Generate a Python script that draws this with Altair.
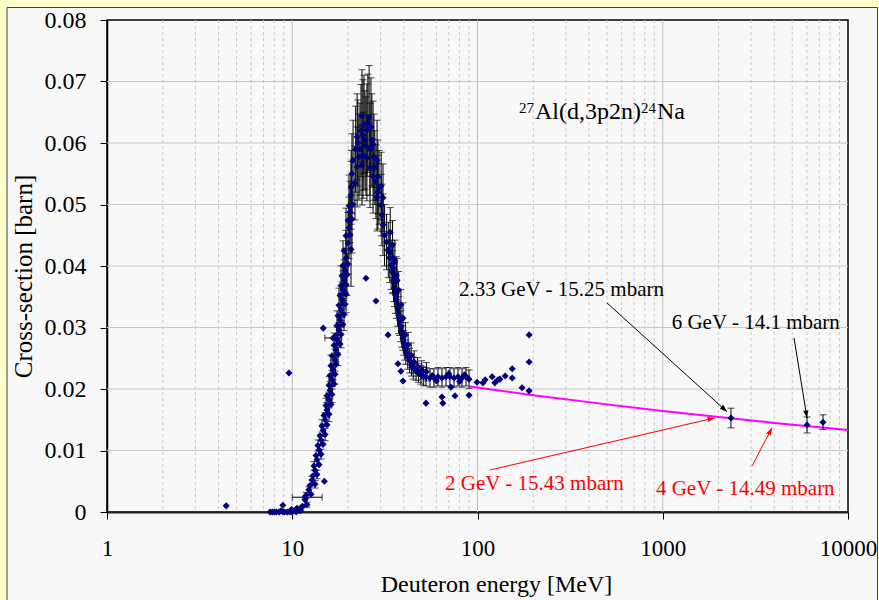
import altair as alt
import pandas as pd

FONT = "Liberation Serif"
NAVY = "#000080"

# ---------------- data ----------------
low_E = [7.6, 7.8, 8.0, 8.2, 8.5, 8.7, 8.9, 9.1, 9.4, 9.7, 10.0, 10.2, 10.5, 10.8, 11.1, 8.9, 9.9, 10.6, 11.4]
low_xs = [0, 0, 0, 0, 0, 0.0002, 0, 0, 0, 0, 0, 0.0002, 0, 0.0003, 0.0002, 0.0011, 0.0004, 0.0006, 0.0009]

rise_E = [
    11.29, 12.00, 11.72, 11.86, 12.63, 12.30, 12.47, 13.27, 12.78, 12.94, 13.60, 13.27,
    13.11, 13.95, 13.60, 13.44, 14.30, 13.95, 13.77, 14.66, 14.30, 14.12, 15.03, 14.66,
    14.47, 15.40, 15.03, 14.84, 15.79, 15.40, 15.21, 16.19, 15.79, 15.40, 16.39, 15.99,
    15.79, 16.81, 16.39, 15.99, 17.02, 16.60, 16.19, 17.23, 17.02, 16.39, 17.66, 17.23,
    16.81, 18.11, 17.45, 17.23, 18.33, 17.88, 17.45, 18.79, 18.11, 17.66, 19.03, 18.33,
    17.88, 19.27, 18.56, 18.11, 19.51, 18.79, 18.33, 19.51, 19.03, 18.56, 19.75, 19.27,
    18.79, 20.00, 19.51, 19.03, 20.76, 20.00, 19.51, 20.50, 20.25, 20.00, 21.02, 20.50,
    20.25, 21.28, 20.76]
rise_xs = [
    0.0009, 0.0012, 0.0020, 0.0027, 0.0029, 0.0036, 0.0043, 0.0045, 0.0052, 0.0059, 0.0061, 0.0068,
    0.0075, 0.0077, 0.0085, 0.0092, 0.0094, 0.0101, 0.0108, 0.0110, 0.0117, 0.0124, 0.0126, 0.0133,
    0.0140, 0.0142, 0.0150, 0.0157, 0.0159, 0.0166, 0.0173, 0.0175, 0.0182, 0.0189, 0.0191, 0.0198,
    0.0206, 0.0208, 0.0215, 0.0222, 0.0224, 0.0231, 0.0238, 0.0240, 0.0247, 0.0254, 0.0256, 0.0263,
    0.0271, 0.0273, 0.0280, 0.0287, 0.0289, 0.0296, 0.0303, 0.0305, 0.0312, 0.0319, 0.0321, 0.0328,
    0.0336, 0.0338, 0.0345, 0.0352, 0.0354, 0.0361, 0.0368, 0.0370, 0.0377, 0.0384, 0.0386, 0.0393,
    0.0401, 0.0403, 0.0413, 0.0425, 0.0427, 0.0437, 0.0449, 0.0451, 0.0462, 0.0474, 0.0476, 0.0488,
    0.0498, 0.0500, 0.0515]
rise_err = [
    0, 0.0004, 0, 0.0005, 0, 0.0005, 0, 0.0006, 0.0006, 0, 0.0007, 0.0007,
    0.0007, 0, 0.0008, 0, 0.0008, 0.0008, 0.0009, 0, 0.0009, 0, 0.0010, 0.0010,
    0.0010, 0, 0.0011, 0, 0.0012, 0.0012, 0.0012, 0, 0.0013, 0, 0.0013, 0.0014,
    0.0014, 0, 0.0015, 0, 0.0016, 0.0016, 0.0017, 0, 0.0018, 0, 0.0018, 0.0019,
    0.0020, 0, 0.0021, 0, 0.0022, 0.0023, 0.0024, 0, 0.0025, 0, 0.0026, 0.0027,
    0.0028, 0, 0.0029, 0, 0.0030, 0.0031, 0.0032, 0, 0.0033, 0, 0.0034, 0.0035,
    0.0040, 0, 0.0045, 0, 0.0060, 0.0050, 0.0045, 0, 0.0050, 0, 0.0055, 0.0050,
    0.0050, 0, 0.0055]

peak_E = [23.8, 26.0, 26.6, 25.3, 22.4, 22.6, 24.1, 24.7, 26.9, 21.3,
          22.9, 24.1, 25.3, 27.6, 28.7, 22.4, 23.8, 20.8, 21.8, 27.3,
          29.4, 28.7, 30.9, 23.2, 25.0, 26.3, 27.3, 24.4, 25.6, 23.5,
          22.0, 21.0, 26.3, 27.9, 29.0, 30.2]
peak_xs = [0.0644, 0.0641, 0.0626, 0.0621, 0.0610, 0.0600, 0.0613, 0.0605, 0.0605, 0.0572,
           0.0577, 0.0580, 0.0576, 0.0577, 0.0572, 0.0561, 0.0564, 0.0528, 0.0535, 0.0546,
           0.0528, 0.0512, 0.0511, 0.0590, 0.0595, 0.0590, 0.0598, 0.0630, 0.0632, 0.0620,
           0.0590, 0.0550, 0.0560, 0.0560, 0.0545, 0.0530]
peak_err = [0.0075, 0.0085, 0.0080, 0.0075, 0.0070, 0.0070, 0.0090, 0.0080, 0.0075, 0.0065,
            0.0070, 0.0070, 0.0070, 0.0070, 0.0065, 0.0065, 0.0065, 0.0060, 0.0060, 0.0060,
            0.0060, 0.0055, 0.0055, 0.0075, 0.0080, 0.0075, 0.0070, 0.0080, 0.0080, 0.0075,
            0.0070, 0.0065, 0.0065, 0.0060, 0.0060, 0.0055]

fall_E = [30.9, 31.5, 32.3, 33.0, 33.6, 34.2, 34.8, 35.2, 35.6, 36.0,
          36.5, 37.0, 37.5, 38.0, 38.5, 39.0, 39.5, 40.0, 40.5, 41.0,
          42.0, 43.0, 44.0, 45.0, 46.6, 48.0, 49.5, 51.0, 52.7, 55.4,
          58.2, 61.2, 64.3, 67.6, 71.0, 74.7, 78.5, 82.5, 86.7, 90.0,
          33.8, 34.8, 35.8, 36.5, 37.5, 38.6, 39.6, 40.8, 42.2, 43.8,
          45.5, 47.5, 50.0, 53.0, 28.3, 29.0, 30.2, 30.5, 32.9, 33.7,
          35.0, 36.8, 35.0, 57.0, 60.0, 70.0, 80.0, 85.0]
fall_xs = [0.0467, 0.0450, 0.0439, 0.0426, 0.0413, 0.0402, 0.0390, 0.0377, 0.0364, 0.0353,
           0.0345, 0.0332, 0.0320, 0.0312, 0.0302, 0.0293, 0.0283, 0.0275, 0.0267, 0.0260,
           0.0252, 0.0246, 0.0239, 0.0234, 0.0229, 0.0226, 0.0223, 0.0221, 0.0220, 0.0218,
           0.0218, 0.0220, 0.0218, 0.0220, 0.0220, 0.0218, 0.0220, 0.0218, 0.0220, 0.0216,
           0.0455, 0.0434, 0.0407, 0.0385, 0.0361, 0.0337, 0.0315, 0.0288, 0.0272, 0.0255,
           0.0244, 0.0236, 0.0231, 0.0228, 0.0537, 0.0520, 0.0499, 0.0483, 0.0426, 0.0421,
           0.0397, 0.0377, 0.0413, 0.0222, 0.0213, 0.0225, 0.0212, 0.0223]
fall_err = [0.005, 0.005, 0.0045, 0.0045, 0.004, 0.004, 0.0035, 0.0035, 0.003, 0.003,
            0.003, 0.003, 0.003, 0.0025, 0.0025, 0.0025, 0.002, 0.002, 0.002, 0.002,
            0.002, 0.002, 0.0018, 0.0018, 0.0015, 0.0015, 0.0015, 0.0015, 0.0015, 0.0015,
            0.0015, 0.0015, 0.0015, 0.0015, 0.0015, 0.0015, 0.0015, 0.0015, 0.0015, 0.0015,
            0.004, 0.004, 0.0035, 0.003, 0.003, 0.0025, 0.0025, 0.002, 0.002, 0.002,
            0.0018, 0.0015, 0.0015, 0.0015, 0.006, 0.006, 0.005, 0.005, 0, 0,
            0.004, 0.0035, 0, 0, 0, 0, 0, 0]

out_E = [4.4, 9.6, 14.7, 25.0, 28.3, 32.9, 37.2, 38.6, 39.6, 52.7, 64.3, 65.0, 75.6, 71.9, 90.0, 14.9]
out_xs = [0.0010, 0.0226, 0.0299, 0.0380, 0.0343, 0.0288, 0.0241, 0.0229, 0.0213, 0.0177,
          0.0187, 0.0177, 0.0189, 0.0203, 0.0190, 0.0050]

high_E = [99.4, 107, 110, 120, 124, 129, 132, 141, 154, 154, 174, 190, 190, 190]
high_xs = [0.0211, 0.0210, 0.0215, 0.0220, 0.0210, 0.0215, 0.0216, 0.0221, 0.0233, 0.0218,
           0.0202, 0.0197, 0.0244, 0.0288]

gev_E = [2335, 6010, 7330]
gev_xs = [0.01528, 0.01415, 0.0146]
gev_err = [0.0016, 0.0013, 0.0012]

hbar_E = [11.7, 16.6]
hbar_xs = [0.0024, 0.0283]
hbar_lo = [10.0, 15.0]
hbar_hi = [14.5, 18.5]

fit_E = [91, 200, 500, 1000, 2000, 4000, 10000]
fit_xs = [0.0204, 0.0190, 0.0175, 0.01643, 0.01543, 0.01449, 0.01333]

x_ticks = [1, 10, 100, 1000, 10000]
y_ticks = [0, 0.01, 0.02, 0.03, 0.04, 0.05, 0.06, 0.07, 0.08]
x_major_grid = [10, 100, 1000]
x_minor_grid = [2, 3, 4, 5, 6, 7, 8, 9, 20, 30, 40, 50, 60, 70, 80, 90,
                200, 300, 400, 500, 600, 700, 800, 900, 2000, 3000, 4000, 5000, 6000, 7000, 8000, 9000]
y_grid = [0.01, 0.02, 0.03, 0.04, 0.05, 0.06, 0.07]

label_text = ["2.33 GeV - 15.25 mbarn", "6 GeV - 14.1 mbarn", "2 GeV - 15.43 mbarn", "4 GeV - 14.49 mbarn"]
label_E = [79.5, 1117, 66.8, 919]
label_xs = [0.0352, 0.0298, 0.0036, 0.0028]
label_color = ["black", "black", "red", "red"]

arrow_E0 = [500, 5111, 116.8, 3033]
arrow_xs0 = [0.0340, 0.0283, 0.00683, 0.00748]
arrow_E1 = [2223, 6007, 1914, 3890]
arrow_xs1 = [0.0163, 0.0153, 0.0153, 0.0137]
arrow_angle = [132, 171, 77, 27]
arrow_color = ["black", "black", "red", "red"]

title_parts = ["27", "Al(d,3p2n)", "24", "Na"]
title_dx = [0, 16, 122, 138]
title_dy = [-6, 0, -6, 0]
title_size = [15, 24, 15, 24]
title_E = 167.5
title_xs = 0.0639

# ---------------- tables ----------------
all_E = low_E + rise_E + peak_E + fall_E + out_E + high_E + gev_E + hbar_E
all_xs = low_xs + rise_xs + peak_xs + fall_xs + out_xs + high_xs + gev_xs + hbar_xs
pts = pd.DataFrame({"E": all_E, "xs": all_xs})

eb_E = rise_E + peak_E + fall_E + gev_E
eb_xs = rise_xs + peak_xs + fall_xs + gev_xs
eb_err = rise_err + peak_err + fall_err + gev_err
eb = pd.DataFrame({"E": eb_E, "xs": eb_xs, "err": eb_err})
eb = eb[eb["err"] > 0].copy()
eb["lo"] = eb["xs"] - eb["err"]
eb["hi"] = eb["xs"] + eb["err"]
caps = pd.concat([pd.DataFrame({"E": eb["E"], "v": eb["lo"]}),
                  pd.DataFrame({"E": eb["E"], "v": eb["hi"]})])

hb = pd.DataFrame({"E": hbar_E, "xs": hbar_xs, "lo": hbar_lo, "hi": hbar_hi})
hcaps = pd.concat([pd.DataFrame({"v": hbar_lo, "xs": hbar_xs}),
                   pd.DataFrame({"v": hbar_hi, "xs": hbar_xs})])

fit = pd.DataFrame({"E": fit_E, "xs": fit_xs})
labels = pd.DataFrame({"E": label_E, "xs": label_xs, "t": label_text, "c": label_color})
arrows = pd.DataFrame({"E0": arrow_E0, "y0": arrow_xs0, "E1": arrow_E1, "y1": arrow_xs1,
                       "ang": arrow_angle, "c": arrow_color})
one = pd.DataFrame({"k": [0]})

W, H = 741, 492
xs_ = alt.Scale(type="log", domain=[1, 10000], nice=False)
ys_ = alt.Scale(domain=[0, 0.08], nice=False, zero=False)

x_axis = alt.Axis(values=x_ticks, format="d", title="Deuteron energy [MeV]", grid=False,
                  labelFont=FONT, labelFontSize=23, labelColor="black", labelPadding=18,
                  titleFont=FONT, titleFontSize=24, titleFontWeight="normal", titleColor="black",
                  titleX=389, titleY=79, titleAlign="center", titleBaseline="alphabetic",
                  tickColor="black", tickSize=7, domainColor="#222222", domainWidth=2,
                  labelFlush=False, labelOverlap=False)
y_axis = alt.Axis(values=y_ticks, format=".2~f", title="Cross-section [barn]", grid=False,
                  labelFont=FONT, labelFontSize=24, labelColor="black", labelPadding=14,
                  titleFont=FONT, titleFontSize=25, titleFontWeight="normal", titleColor="black",
                  titleX=-76, titleY=256, titleAlign="center", titleBaseline="alphabetic", titleAngle=270,
                  tickColor="black", tickSize=7, domainColor="black", domainWidth=1.5,
                  labelFlush=False, labelOverlap=False)


def X(field):
    return alt.X(field, scale=xs_, axis=x_axis)


def Y(field):
    return alt.Y(field, scale=ys_, axis=y_axis)


# decoration: yellow outer frame and dark inner border
frame_top = alt.Chart(one).mark_rect(color="#FFFFCC").encode(
    x=alt.value(-107), x2=alt.value(W + 31), y=alt.value(-20), y2=alt.value(-12.5))
frame_left = alt.Chart(one).mark_rect(color="#FFFFCC").encode(
    x=alt.value(-107), x2=alt.value(-100.5), y=alt.value(-20), y2=alt.value(H + 88))
frame_right = alt.Chart(one).mark_rect(color="#FFFFCC").encode(
    x=alt.value(W + 29.5), x2=alt.value(W + 31), y=alt.value(-20), y2=alt.value(H + 88))
frame_border = alt.Chart(one).mark_rect(fill=None, stroke="#404040", strokeWidth=1).encode(
    x=alt.value(-100), x2=alt.value(W + 29.5), y=alt.value(-12.5), y2=alt.value(H + 100))

ygrid = alt.Chart(pd.DataFrame({"v": y_grid})).mark_rule(color="#C8C8C8", strokeWidth=1).encode(
    y=Y("v:Q"))
xmaj = alt.Chart(pd.DataFrame({"v": x_major_grid})).mark_rule(color="#BEBEBE", strokeWidth=1).encode(
    x=X("v:Q"))
xmin = alt.Chart(pd.DataFrame({"v": x_minor_grid})).mark_rule(
    color="#C8C8C8", strokeWidth=1, strokeDash=[3, 3]).encode(x=X("v:Q"))

fit_line = alt.Chart(fit).mark_line(color="#FF00FF", strokeWidth=2).encode(x=X("E:Q"), y=Y("xs:Q"))

bars = alt.Chart(eb).mark_rule(color="black", strokeWidth=1).encode(
    x=X("E:Q"), y=Y("lo:Q"), y2="hi:Q")
cap_marks = alt.Chart(caps).mark_tick(color="black", orient="horizontal", size=7, thickness=1).encode(
    x=X("E:Q"), y=Y("v:Q"))
hbars = alt.Chart(hb).mark_rule(color="black", strokeWidth=1).encode(
    x=X("lo:Q"), x2="hi:Q", y=Y("xs:Q"))
hcap_marks = alt.Chart(hcaps).mark_tick(color="black", orient="vertical", size=7, thickness=1).encode(
    x=X("v:Q"), y=Y("xs:Q"))

points = alt.Chart(pts).mark_point(shape="diamond", filled=True, color=NAVY, size=50, opacity=1).encode(
    x=X("E:Q"), y=Y("xs:Q"))

arrow_lines = alt.Chart(arrows).mark_rule(strokeWidth=1).encode(
    x=X("E0:Q"), x2="E1:Q", y=Y("y0:Q"), y2="y1:Q",
    color=alt.Color("c:N", scale=None))
arrow_heads = alt.Chart(arrows).mark_point(
    shape="M0,0L0.35,1L-0.35,1Z", filled=True, size=220, opacity=1).encode(
    x=X("E1:Q"), y=Y("y1:Q"),
    angle=alt.Angle("ang:Q", scale=None), color=alt.Color("c:N", scale=None))

label_marks = alt.Chart(labels).mark_text(font=FONT, fontSize=21, align="left", baseline="alphabetic").encode(
    x=X("E:Q"), y=Y("xs:Q"), text="t:N", color=alt.Color("c:N", scale=None))

title_layers = []
for txt, dx, dy, fs in zip(title_parts, title_dx, title_dy, title_size):
    title_layers.append(
        alt.Chart(pd.DataFrame({"E": [title_E], "xs": [title_xs], "t": [txt]})).mark_text(
            font=FONT, fontSize=fs, align="left", baseline="alphabetic", dx=dx, dy=dy, color="black"
        ).encode(x=X("E:Q"), y=Y("xs:Q"), text="t:N"))

chart = alt.layer(
    ygrid, xmin, xmaj, frame_top, frame_left, frame_right, frame_border,
    fit_line, bars, cap_marks, hbars, hcap_marks, points,
    arrow_lines, arrow_heads, label_marks, *title_layers
).properties(
    width=W, height=H,
    padding={"left": 107, "top": 20, "right": 31, "bottom": 88},
    autosize=alt.AutoSizeParams(type="none"),
    background="#F8F8F8",
).configure_view(stroke="black", strokeWidth=1.5).configure_axis(
    labelFont=FONT, titleFont=FONT, labelFontWeight="normal", titleFontWeight="normal"
).configure_text(font=FONT)

chart.save("out.html", embed_options={"renderer": "svg", "actions": False})
